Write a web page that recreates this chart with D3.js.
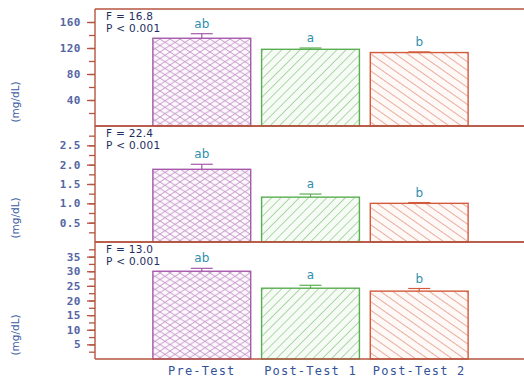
<!DOCTYPE html>
<html>
<head>
<meta charset="utf-8">
<script src="https://cdn.jsdelivr.net/npm/d3@7"></script>
<style>
  html, body { margin: 0; padding: 0; background: #fff; }
  svg { display: block; }
</style>
</head>
<body>
<svg id="chart" width="524" height="381"></svg>
<script>
// Groups along the x axis
const categories = ["Pre-Test", "Post-Test 1", "Post-Test 2"];
const groupLetters = ["ab", "a", "b"];

// Panel 1 (mg/dL)
const panel1Means = [135, 118, 113];
const panel1Errors = [7, 2, 1];
const panel1Ticks = [40, 80, 120, 160];
const panel1Minor = [20, 40, 60, 80, 100, 120, 140, 160];

// Panel 2 (mg/dL)
const panel2Means = [1.88, 1.16, 1.0];
const panel2Errors = [0.13, 0.08, 0.02];
const panel2Ticks = [0.5, 1.0, 1.5, 2.0, 2.5];
const panel2Minor = [0.25, 0.5, 0.75, 1.0, 1.25, 1.5, 1.75, 2.0, 2.25, 2.5, 2.75];

// Panel 3 (mg/dL)
const panel3Means = [30.0, 24.2, 23.2];
const panel3Errors = [1.0, 1.0, 0.9];
const panel3Ticks = [5, 10, 15, 20, 25, 30, 35];
const panel3Minor = [2.5, 5, 7.5, 10, 12.5, 15, 17.5, 20, 22.5, 25, 27.5, 30, 32.5, 35, 37.5];

// ANOVA results per panel
const fValues = ["16.8", "22.4", "13.0"];
const pValues = ["< 0.001", "< 0.001", "< 0.001"];

const panels = [
  { means: panel1Means, errors: panel1Errors, max: 180, ticks: panel1Ticks, minor: panel1Minor, fmt: d3.format("d"), top: 9, bottom: 126 },
  { means: panel2Means, errors: panel2Errors, max: 3, ticks: panel2Ticks, minor: panel2Minor, fmt: d3.format(".1f"), top: 126, bottom: 242 },
  { means: panel3Means, errors: panel3Errors, max: 40, ticks: panel3Ticks, minor: panel3Minor, fmt: d3.format("d"), top: 242, bottom: 359 }
];

const axisColor = "#b5553f";
const tickTextColor = "#5565a3";
const letterColor = "#2f8fae";
const statColor = "#1e2d5e";
const barColors = ["#a659aa", "#5aae52", "#d35b3b"];
const hatchColors = ["#b77cbb", "#63b25b", "#d4634a"];
const barFills = ["#fcf7fc", "#f7fbf6", "#fef8f6"];

const left = 95, right = 524;
const svg = d3.select("#chart");

// Hatch patterns for the three groups
const defs = svg.append("defs");
const cross = defs.append("pattern").attr("id", "hatch0").attr("patternUnits", "userSpaceOnUse")
  .attr("width", 10).attr("height", 6.5);
cross.append("rect").attr("width", 10).attr("height", 6.5).attr("fill", barFills[0]);
cross.append("path").attr("d", "M0,0 L10,6.5 M0,6.5 L10,0")
  .attr("stroke", hatchColors[0]).attr("stroke-width", 0.8).attr("fill", "none");

const fwd = defs.append("pattern").attr("id", "hatch1").attr("patternUnits", "userSpaceOnUse")
  .attr("width", 6.5).attr("height", 6.5).attr("patternTransform", "rotate(45)");
fwd.append("rect").attr("width", 6.5).attr("height", 6.5).attr("fill", barFills[1]);
fwd.append("line").attr("x1", 0).attr("y1", 0).attr("x2", 0).attr("y2", 6.5)
  .attr("stroke", hatchColors[1]).attr("stroke-width", 1);

const back = defs.append("pattern").attr("id", "hatch2").attr("patternUnits", "userSpaceOnUse")
  .attr("width", 7).attr("height", 7).attr("patternTransform", "rotate(-55)");
back.append("rect").attr("width", 7).attr("height", 7).attr("fill", barFills[2]);
back.append("line").attr("x1", 0).attr("y1", 0).attr("x2", 0).attr("y2", 7)
  .attr("stroke", hatchColors[2]).attr("stroke-width", 1);

const x = d3.scaleBand().domain(categories).range([142, 479]).paddingInner(0.1).paddingOuter(0.1);

panels.forEach((p, pi) => {
  const y = d3.scaleLinear().domain([0, p.max]).range([p.bottom, p.top]);
  const g = svg.append("g");

  // Bars
  const rows = categories.map((c, i) => ({ c, i, mean: p.means[i], err: p.errors[i] }));
  g.selectAll("rect.bar").data(rows).join("rect")
    .attr("class", "bar")
    .attr("x", d => x(d.c))
    .attr("y", d => y(d.mean))
    .attr("width", x.bandwidth())
    .attr("height", d => y(0) - y(d.mean))
    .attr("fill", d => `url(#hatch${d.i})`)
    .attr("stroke", d => barColors[d.i])
    .attr("stroke-width", 1.4);

  // Error bars
  g.selectAll("line.err").data(rows).join("line")
    .attr("x1", d => x(d.c) + x.bandwidth() / 2)
    .attr("x2", d => x(d.c) + x.bandwidth() / 2)
    .attr("y1", d => y(d.mean))
    .attr("y2", d => y(d.mean + d.err))
    .attr("stroke", d => barColors[d.i]).attr("stroke-width", 1.2);
  g.selectAll("line.cap").data(rows).join("line")
    .attr("x1", d => x(d.c) + x.bandwidth() / 2 - 11)
    .attr("x2", d => x(d.c) + x.bandwidth() / 2 + 11)
    .attr("y1", d => y(d.mean + d.err))
    .attr("y2", d => y(d.mean + d.err))
    .attr("stroke", d => barColors[d.i]).attr("stroke-width", 1.2);

  // Group letters above error bars
  g.selectAll("text.letter").data(rows).join("text")
    .attr("x", d => x(d.c) + x.bandwidth() / 2)
    .attr("y", d => y(d.mean + d.err) - 6)
    .attr("text-anchor", "middle")
    .attr("font-family", "DejaVu Sans, sans-serif")
    .attr("font-size", 12)
    .attr("fill", letterColor)
    .text(d => groupLetters[d.i]);

  // Frame lines (top and bottom)
  g.append("line").attr("x1", left).attr("x2", right).attr("y1", p.top).attr("y2", p.top)
    .attr("stroke", axisColor).attr("stroke-width", 1.4);
  g.append("line").attr("x1", left).attr("x2", right).attr("y1", p.bottom).attr("y2", p.bottom)
    .attr("stroke", axisColor).attr("stroke-width", 1.4);

  // Minor ticks
  const minorAxis = g.append("g").attr("transform", `translate(${left},0)`)
    .call(d3.axisLeft(y).tickValues(p.minor).tickSize(6).tickFormat(""));
  minorAxis.select(".domain").remove();
  minorAxis.selectAll("line").attr("stroke", axisColor).attr("stroke-width", 1.3);

  // Major ticks with labels
  const majorAxis = g.append("g").attr("transform", `translate(${left},0)`)
    .call(d3.axisLeft(y).tickValues(p.ticks).tickSize(8).tickPadding(6).tickFormat(p.fmt));
  majorAxis.select(".domain").attr("stroke", axisColor).attr("stroke-width", 1.4)
    .attr("d", `M0,${p.top}V${p.bottom}`);
  majorAxis.selectAll("line").attr("stroke", axisColor).attr("stroke-width", 1.3);
  majorAxis.selectAll("text")
    .attr("font-family", "DejaVu Sans Mono, monospace")
    .attr("font-size", 11)
    .attr("font-weight", "bold")
    .attr("letter-spacing", 0.5)
    .attr("fill", tickTextColor);

  // Statistics text
  g.append("text").attr("x", 106).attr("y", p.top + 11)
    .attr("font-family", "DejaVu Sans, sans-serif").attr("font-size", 10.5)
    .attr("fill", statColor).attr("letter-spacing", 0.3)
    .text(`F = ${fValues[pi]}`);
  g.append("text").attr("x", 106).attr("y", p.top + 23)
    .attr("font-family", "DejaVu Sans, sans-serif").attr("font-size", 10.5)
    .attr("fill", statColor).attr("letter-spacing", 0.3)
    .text(`P ${pValues[pi]}`);

  // Unit label
  g.append("text")
    .attr("transform", `translate(19,${p.bottom - 24}) rotate(-90)`)
    .attr("text-anchor", "middle")
    .attr("font-family", "DejaVu Sans, sans-serif")
    .attr("font-size", 10.5)
    .attr("fill", "#3b5ba3")
    .text("(mg/dL)");
});

// Category labels beneath the last panel
svg.append("g").selectAll("text").data(categories).join("text")
  .attr("x", d => x(d) + x.bandwidth() / 2)
  .attr("y", 375)
  .attr("text-anchor", "middle")
  .attr("font-family", "DejaVu Sans Mono, monospace")
  .attr("font-size", 12)
  .attr("letter-spacing", 1.2)
  .attr("fill", "#33529a")
  .text(d => d);
</script>
</body>
</html>
